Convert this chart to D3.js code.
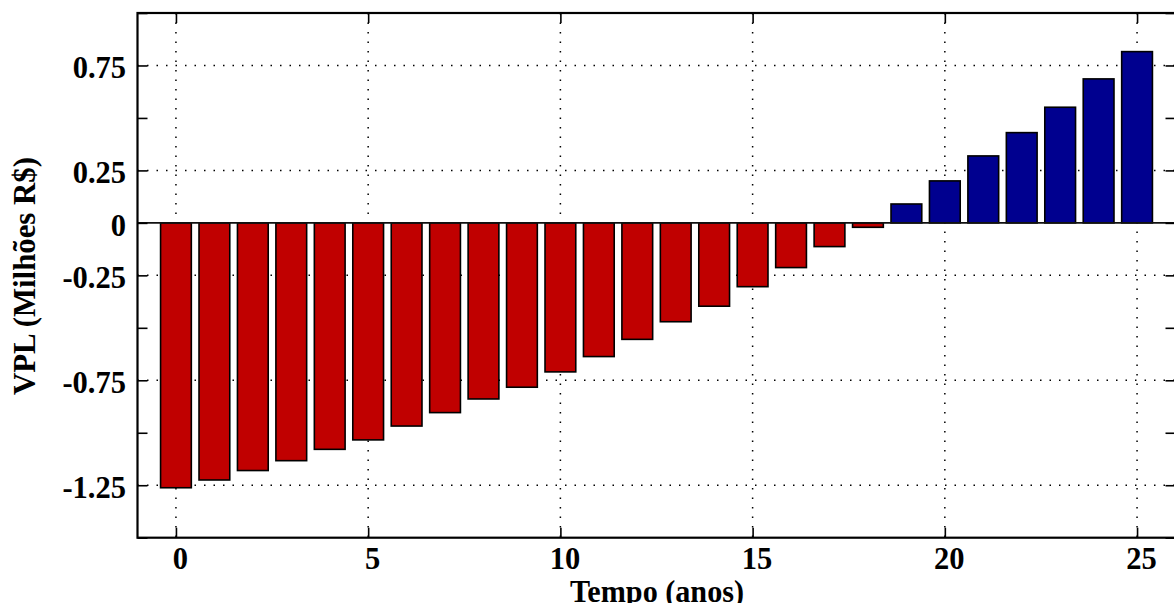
<!DOCTYPE html>
<html>
<head>
<meta charset="utf-8">
<script src="https://cdn.jsdelivr.net/npm/d3@7"></script>
<style>
  body { margin: 0; background: #fff; }
  svg { display: block; }
  text { font-family: "Liberation Serif", "Times New Roman", serif; font-weight: bold; fill: #000; }
</style>
</head>
<body>
<svg width="1174" height="603"></svg>
<script>
// anos (time, years)
const anos = [0, 1, 2, 3, 4, 5, 6, 7, 8, 9, 10, 11, 12, 13, 14, 15, 16, 17, 18, 19, 20, 21, 22, 23, 24, 25];
// VPL in millions of R$
const vpl = [-1.262, -1.225, -1.180, -1.133, -1.079, -1.034, -0.968, -0.904, -0.839, -0.783,
             -0.710, -0.637, -0.555, -0.471, -0.397, -0.304, -0.213, -0.113, -0.021, 0.090,
             0.200, 0.319, 0.430, 0.551, 0.686, 0.816];
const xTicks = [0, 5, 10, 15, 20, 25];
const yTicks = [1, 0.75, 0.5, 0.25, 0, -0.25, -0.5, -0.75, -1, -1.25, -1.5];
const yLabelled = [0.75, 0.25, 0, -0.25, -0.75, -1.25];

const svg = d3.select("svg");
const plotL = 137.5, plotR = 1175.5, plotT = 13, plotB = 537.7;

const x = d3.scaleLinear().domain([-1, 26]).range([plotL, plotR]);
const y = d3.scaleLinear().domain([-1.5, 1]).range([plotB, plotT]);

// dotted grid
const grid = svg.append("g")
  .attr("stroke", "#000")
  .attr("stroke-width", 1.5)
  .attr("stroke-dasharray", "1.5,8");
grid.selectAll("line.v").data(xTicks).enter().append("line")
  .attr("class", "v")
  .attr("x1", (d) => x(d)).attr("x2", (d) => x(d))
  .attr("y1", plotT).attr("y2", plotB);
grid.selectAll("line.h").data(yLabelled.filter((d) => d !== 0)).enter().append("line")
  .attr("class", "h")
  .attr("x1", plotL).attr("x2", plotR)
  .attr("y1", (d) => y(d)).attr("y2", (d) => y(d));

// bars
const barW = x(0.8) - x(0);
svg.append("g").selectAll("rect").data(anos).enter().append("rect")
  .attr("x", (d) => x(d) - barW / 2)
  .attr("width", barW)
  .attr("y", (d, i) => y(Math.max(0, vpl[i])))
  .attr("height", (d, i) => Math.abs(y(vpl[i]) - y(0)))
  .attr("fill", (d, i) => (vpl[i] < 0 ? "#c00000" : "#00008f"))
  .attr("stroke", "#000")
  .attr("stroke-width", 1.6);

// zero baseline
svg.append("line")
  .attr("x1", plotL).attr("x2", plotR)
  .attr("y1", y(0)).attr("y2", y(0))
  .attr("stroke", "#111").attr("stroke-width", 1.8);

// axes (inward ticks)
const tickFont = 30.5;
const yAxis = svg.append("g").attr("transform", `translate(${plotL},0)`)
  .call(d3.axisLeft(y).tickValues(yTicks).tickSizeInner(-10).tickSizeOuter(0).tickPadding(11.5)
    .tickFormat((d) => (yLabelled.includes(d) ? String(d) : "")));
yAxis.selectAll("text").attr("dy", "0.4em").style("font-size", tickFont + "px");

const xAxis = svg.append("g").attr("transform", `translate(0,${plotB})`)
  .call(d3.axisBottom(x).tickValues(xTicks).tickSizeInner(-10).tickSizeOuter(0).tickPadding(10)
    .tickFormat((d) => String(d)));
xAxis.selectAll("text").attr("dx", 4).style("font-size", tickFont + "px");

svg.append("g").attr("transform", `translate(${plotR},0)`)
  .call(d3.axisRight(y).tickValues(yTicks).tickSizeInner(-10).tickSizeOuter(0).tickFormat(""));
svg.append("g").attr("transform", `translate(0,${plotT})`)
  .call(d3.axisTop(x).tickValues(xTicks).tickSizeInner(-10).tickSizeOuter(0).tickFormat(""));

svg.selectAll(".domain").remove();
svg.selectAll(".tick line").attr("stroke", "#000").attr("stroke-width", 1.6);

// frame
svg.append("rect")
  .attr("x", plotL).attr("y", plotT)
  .attr("width", plotR - plotL).attr("height", plotB - plotT)
  .attr("fill", "none").attr("stroke", "#000").attr("stroke-width", 2.2);

// axis titles
svg.append("text")
  .attr("x", 657).attr("y", 602)
  .attr("text-anchor", "middle")
  .attr("textLength", 174).attr("lengthAdjust", "spacingAndGlyphs")
  .style("font-size", "32px")
  .text("Tempo (anos)");

svg.append("text")
  .attr("transform", "translate(35,276) rotate(-90)")
  .attr("text-anchor", "middle")
  .attr("textLength", 238).attr("lengthAdjust", "spacingAndGlyphs")
  .style("font-size", "31px")
  .text("VPL (Milhões R$)");
</script>
</body>
</html>
